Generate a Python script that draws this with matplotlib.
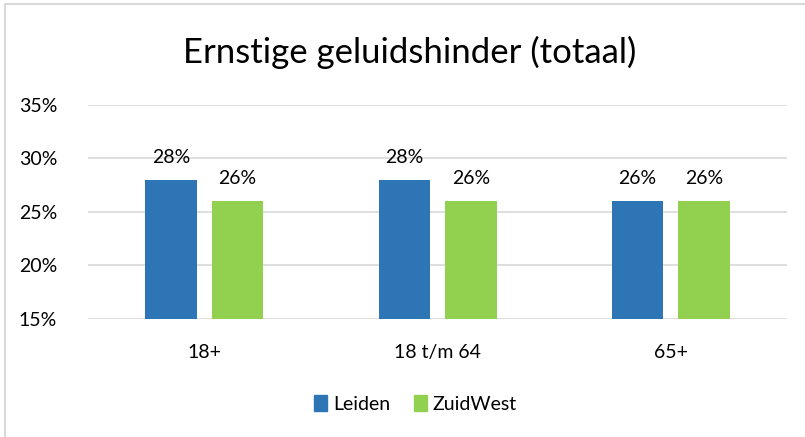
import matplotlib
matplotlib.use("Agg")
import matplotlib.pyplot as plt
import numpy as np
from matplotlib.patches import Rectangle

categories = ["18+", "18 t/m 64", "65+"]
series_names = ["Leiden", "ZuidWest"]
leiden = [28, 28, 26]
zuidwest = [26, 26, 26]
yticks = [15, 20, 25, 30, 35]
colors = ["#2E75B6", "#92D050"]

plt.rcParams['font.family'] = ['Lato', 'DejaVu Sans']

fig = plt.figure(figsize=(8.05, 4.37), dpi=100)
ax = fig.add_axes([0.109, 0.270, 0.869, 0.490])

x = np.arange(len(categories))
w = 0.22
off = 0.143
b1 = ax.bar(x - off, leiden, w, bottom=0, color=colors[0], label=series_names[0], zorder=3)
b2 = ax.bar(x + off, zuidwest, w, bottom=0, color=colors[1], label=series_names[1], zorder=3)

for bars, vals in ((b1, leiden), (b2, zuidwest)):
    for r, v in zip(bars, vals):
        ax.annotate(f"{v}%", (r.get_x() + r.get_width() / 2, v), xytext=(0, 10),
                    textcoords="offset points", ha="center", va="bottom", fontsize=14, color="#000000")

ax.set_ylim(15, 35)
ax.set_xlim(-0.5, 2.5)
ax.set_yticks(yticks)
ax.set_yticklabels([f"{t}%" for t in yticks], fontsize=14)
ax.set_xticks(x)
ax.set_xticklabels(categories, fontsize=14)
ax.tick_params(axis='both', length=0)
ax.tick_params(axis='x', pad=18)
ax.tick_params(axis='y', pad=22)
ax.grid(axis='y', color="#D9D9D9", linewidth=1.2, zorder=0)
for s in ax.spines.values():
    s.set_visible(False)

fig.text(0.509, 0.88, "Ernstige geluidshinder (totaal)", ha="center", va="center", fontsize=25)

handles = [Rectangle((0, 0), 1, 1, color=c) for c in colors]
fig.legend(handles, series_names, loc="center", bbox_to_anchor=(0.516, 0.075), ncol=2,
           frameon=False, fontsize=14, handlelength=0.7, handleheight=0.9, handletextpad=0.3,
           columnspacing=1.2)

fig.patches.append(Rectangle((0.006, -0.01), 0.999, 1.0, transform=fig.transFigure,
                             fill=False, edgecolor="#D9D9D9", linewidth=1.5))

fig.savefig("out.png", dpi=100)
